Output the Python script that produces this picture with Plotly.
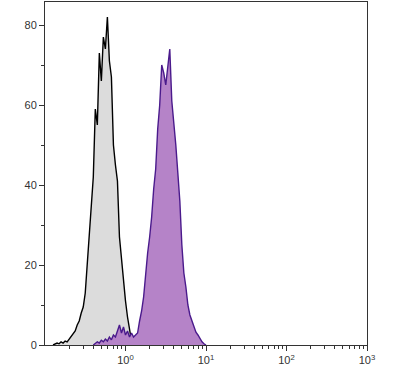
import numpy as np
import plotly.graph_objects as go

# histogram bins: log10 positions, step 0.025 starting at log10 = -1
bin_start_log = -1.0
bin_step_log = 0.025

# isotype control (gray) counts, starting at bin index 4
gray_first_bin = 4
gray_counts = [0, 0.3, 0.5, 0.3, 0.8, 0.5, 1.0, 0.8, 1.5, 2.0, 2.8, 3.5, 5.0, 6.0, 8.0,
               9.5, 13, 20, 28, 34, 42, 59, 55, 73, 66, 77, 74, 82, 71, 67, 50, 45,
               41, 27, 21, 16, 11, 7, 3.5, 1.0, 0.3, 0]

# stained sample (purple) counts, starting at bin index 24
purple_first_bin = 24
purple_counts = [0, 0.3, 0.8, 0.5, 1.2, 0.8, 1.5, 1.0, 2.0, 1.3, 2.5, 2.0, 3.5, 5.0, 3.0,
                 4.5, 2.5, 3.5, 2.0, 3.0, 2.0, 2.5, 3.0, 6, 8.5, 12, 18, 23, 27, 32, 39,
                 44, 54, 60, 70, 68, 65, 70, 74, 61, 56, 50, 43, 36, 25, 18, 14.5, 10,
                 7.5, 6, 4.5, 3.2, 2.5, 1.5, 0.8, 0.3, 0]

x_tick_vals = [1, 10, 100, 1000]
x_tick_text = ["10<sup>0</sup>", "10<sup>1</sup>", "10<sup>2</sup>", "10<sup>3</sup>"]
y_tick_vals = [0, 20, 40, 60, 80]


def bin_x(first, n):
    return [10 ** (bin_start_log + bin_step_log * (first + k)) for k in range(n)]


fig = go.Figure()
fig.add_trace(go.Scatter(
    x=bin_x(gray_first_bin, len(gray_counts)), y=gray_counts,
    mode="lines", fill="tozeroy", fillcolor="#dcdcdc",
    line=dict(color="#000000", width=1.4), showlegend=False))
fig.add_trace(go.Scatter(
    x=bin_x(purple_first_bin, len(purple_counts)), y=purple_counts,
    mode="lines", fill="tozeroy", fillcolor="#b583c8",
    line=dict(color="#4a1a8c", width=1.4), showlegend=False))

minor_x = [m * 10 ** e for e in range(-1, 3) for m in range(2, 10)]

fig.update_layout(
    width=400, height=377,
    margin=dict(l=45, r=33, t=2, b=32),
    paper_bgcolor="white", plot_bgcolor="white",
    font=dict(family="Liberation Sans", size=11, color="#333333"),
)
fig.update_xaxes(
    type="log", range=[-1, 3],
    tickmode="array", tickvals=x_tick_vals, ticktext=x_tick_text,
    ticks="outside", ticklen=5, tickcolor="#333333", tickwidth=1,
    showline=True, linecolor="#333333", linewidth=1, mirror=True,
    showgrid=False, zeroline=False,
    minor=dict(tickmode="array", tickvals=minor_x, ticks="outside", ticklen=3,
               tickcolor="#333333", showgrid=False),
)
fig.update_yaxes(
    range=[0, 85.75],
    tickmode="array", tickvals=y_tick_vals,
    ticks="outside", ticklen=5, tickcolor="#333333", tickwidth=1,
    showline=True, linecolor="#333333", linewidth=1, mirror=True,
    showgrid=False, zeroline=False,
    minor=dict(dtick=10, ticks="outside", ticklen=3, tickcolor="#333333", showgrid=False),
)

fig.write_html("out.html")
